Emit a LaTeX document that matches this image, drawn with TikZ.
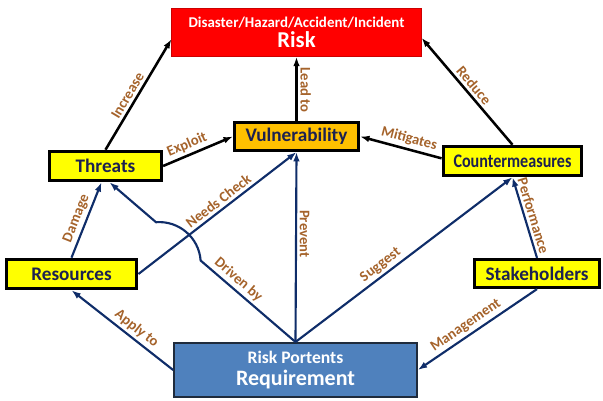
\documentclass[tikz,border=0pt]{standalone}
\usepackage{fontspec}
\setmainfont{Carlito}
\usetikzlibrary{arrows.meta,calc}
\definecolor{riskred}{HTML}{FF0000}
\definecolor{boxyellow}{HTML}{FFFF00}
\definecolor{vulnorange}{HTML}{FFC000}
\definecolor{reqblue}{HTML}{4F81BD}
\definecolor{reqborder}{HTML}{1F2B3C}
\definecolor{nodetext}{HTML}{1C2151}
\definecolor{labbrown}{HTML}{A5632B}
\definecolor{linkblue}{HTML}{0F2D69}
\begin{document}
\begin{tikzpicture}[x=0.75pt,y=-0.75pt,
  box/.style={draw=black,line width=2.4pt,inner sep=0pt,text=nodetext,
    font=\bfseries\fontsize{14.4}{16}\selectfont},
  ybox/.style={box,fill=boxyellow},
  blk/.style={draw=black,line width=1.9pt,-{Latex[length=7pt,width=5pt]}},
  blu/.style={draw=linkblue,line width=1.6pt,-{Latex[length=7pt,width=5pt]}},
  lab/.style={font=\bfseries\fontsize{11}{12}\selectfont,text=labbrown,inner sep=2pt}
]
\useasboundingbox (0,0) rectangle (603,400);

% nodes
\node[draw=red!80!black,fill=riskred,line width=0.6pt,minimum width=187pt,
  minimum height=36pt,inner sep=0pt,text=white,align=center,
  font=\bfseries\fontsize{11.2}{15}\selectfont] (risk) at (296.5,32.5)
  {Disaster/Hazard/Accident/Incident\\ {\fontsize{17}{15}\selectfont Risk}};
\node[box,fill=vulnorange,minimum width=93pt,minimum height=21pt] (vuln) at (296.5,136.5) {Vulnerability};
\node[ybox,minimum width=84pt,minimum height=22pt] (threats) at (105.5,166) {Threats};
\node[ybox,minimum width=104pt,minimum height=22pt] (counter) at (512.5,161)
  {\scalebox{0.84}[1]{Countermeasures}};
\node[ybox,minimum width=98pt,minimum height=22pt] (res) at (71.5,274) {Resources};
\node[ybox,minimum width=94pt,minimum height=21pt] (stake) at (537,273.5) {Stakeholders};
\node[draw=reqborder,fill=reqblue,line width=1.5pt,minimum width=182pt,
  minimum height=40.5pt,inner sep=0pt,text=white,align=center,
  font=\bfseries\fontsize{13.2}{16}\selectfont] (req) at (295.5,370)
  {Risk Portents\\ {\fontsize{16.5}{16}\selectfont Requirement}};

% helper coordinates
\coordinate (riskL) at ([yshift=-5pt]risk.west);
\coordinate (riskR) at ([yshift=-4pt]risk.east);
\coordinate (thrA) at ($(threats.south)+(-4,0)$);
\coordinate (thrB) at ($(threats.south)+(4,0)$);
\coordinate (hopA) at ($(req.north)!0.51!(thrB)$);
\coordinate (hopB) at ($(req.north)!0.75!(thrB)$);

% black connectors
\draw[blk] (threats.north) -- node[lab,sloped,above,pos=0.45]{Increase} (riskL);
\draw[blk] (vuln.north) -- node[lab,rotate=-90,anchor=south,pos=0.48]{Lead to} (risk.south);
\draw[blk] (counter.north) -- node[lab,sloped,above,pos=0.5]{Reduce} (riskR);
\draw[blk] (threats.east) -- node[lab,sloped,above,pos=0.4]{Exploit} (vuln.west);
\draw[blk] ([yshift=2pt]counter.west) -- node[lab,sloped,above,pos=0.43]{Mitigates} (vuln.east);

% blue connectors
\draw[blu] (res.north) -- node[lab,sloped,above,pos=0.47]{Damage} (thrA);
\draw[blu] (res.east) -- node[lab,sloped,above,pos=0.54]{Needs Check} (vuln.south);
\draw[blu] (req.north) -- node[lab,rotate=-90,anchor=south,pos=0.57]{Prevent} (vuln.south);
\draw[blu] (req.north) -- node[lab,sloped,above,pos=0.67]{Driven by} (hopA)
  to[bend right=45] (hopB) -- (thrB);
\draw[blu] (req.north) -- node[lab,sloped,above,pos=0.42]{Suggest} (counter.south);
\draw[blu] (stake.north) -- node[lab,sloped,above,pos=0.49]{Performance} (counter.south);
\draw[blu] (stake.south) -- node[lab,sloped,above,pos=0.55]{Management} (req.east);
\draw[blu] (req.west) -- node[lab,sloped,above,pos=0.42]{Apply to} (res.south);
\end{tikzpicture}
\end{document}
